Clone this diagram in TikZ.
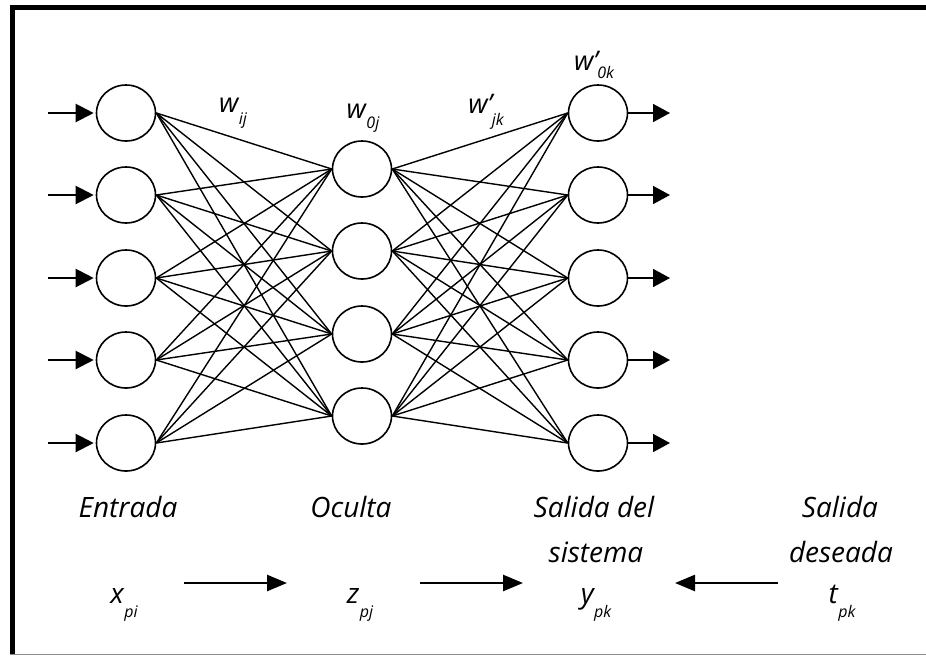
\documentclass[tikz,border=0pt]{standalone}
\usepackage{fontspec}
\setmainfont{Open Sans}
\usetikzlibrary{arrows.meta,shapes.geometric}
\newcommand{\sbs}[3][10pt]{#2\kern0.5pt\raisebox{-#1}{\fontsize{16}{16}\selectfont #3}}
\begin{document}
\begin{tikzpicture}[x=1pt,y=-1pt,
  neuron/.style={ellipse, draw=black, line width=1.6pt, minimum width=59pt, minimum height=56pt, inner sep=0pt},
  link/.style={line width=1.4pt, draw=black},
  inarrow/.style={line width=2.2pt, -{Triangle[length=18pt,width=18pt]}, shorten >=2pt},
  outarrow/.style={line width=1.7pt, -{Triangle[length=17pt,width=18pt]}},
  botarrow/.style={line width=2.6pt, -{Triangle[length=20pt,width=16pt]}},
  lbl/.style={font=\itshape\fontsize{28}{30}\selectfont, anchor=base, inner sep=0pt, text=black},
  wlbl/.style={font=\itshape\fontsize{27}{30}\selectfont, anchor=base, inner sep=0pt, text=black}
]
\useasboundingbox (0,0) rectangle (926,657);
% frame
\draw[line width=5pt, black] (10,7.5) -- (926,7.5);
\draw[line width=5pt, black] (12.5,5) -- (12.5,655);
\draw[line width=1.5pt, black!45] (10,654.5) -- (926,654.5);

% neurons
\foreach \i/\y in {1/113,2/195,3/278,4/360,5/443} {
  \node[neuron] (in\i) at (126,\y) {};
  \node[neuron] (out\i) at (598,\y) {};
  \coordinate (a\i) at (48,\y);
  \coordinate (b\i) at (670,\y);
  \draw[inarrow] (a\i) -- (in\i.west);
  \draw[outarrow] (out\i.east) -- (b\i);
}
\foreach \j/\y in {1/169,2/251,3/334,4/416} {
  \node[neuron] (h\j) at (362,\y) {};
}
\foreach \i in {1,...,5} {
  \foreach \j in {1,...,4} {
    \draw[link] (in\i.east) -- (h\j.west);
    \draw[link] (h\j.east) -- (out\i.west);
  }
}

% weight labels
\node[wlbl] (wij) at (233,112) {\sbs[12pt]{w}{ij}};
\node[wlbl] (w0j) at (363,118) {\sbs[10pt]{w}{0j}};
\node[wlbl] (wjk) at (486,113) {\sbs[12pt]{w’\kern-1pt}{jk}};
\node[wlbl] (w0k) at (594,70) {\sbs[8pt]{w’\kern-1pt}{0k}};

% layer labels
\node[lbl] (ent) at (128,517) {Entrada};
\node[lbl] (ocu) at (351,517) {Oculta};
\node[lbl] (sal1) at (594,517) {Salida del};
\node[lbl] (sal2) at (596,562) {sistema};
\node[lbl] (des1) at (840,517) {Salida};
\node[lbl] (des2) at (841,562) {deseada};

% variables
\node[lbl] (xp) at (124,603) {\sbs[14pt]{x}{pi}};
\node[lbl] (zp) at (360,603) {\sbs[14pt]{z}{pj}};
\node[lbl] (yp) at (596,603) {\sbs[14pt]{y}{pk}};
\node[lbl] (tp) at (842,603) {\sbs[14pt]{t}{pk}};

\coordinate (c1s) at (184,583); \coordinate (c1e) at (287,583);
\coordinate (c2s) at (420,583); \coordinate (c2e) at (523,583);
\coordinate (c3s) at (778,583); \coordinate (c3e) at (675,583);
\draw[botarrow] (c1s) -- (c1e);
\draw[botarrow] (c2s) -- (c2e);
\draw[botarrow] (c3s) -- (c3e);
\end{tikzpicture}
\end{document}
